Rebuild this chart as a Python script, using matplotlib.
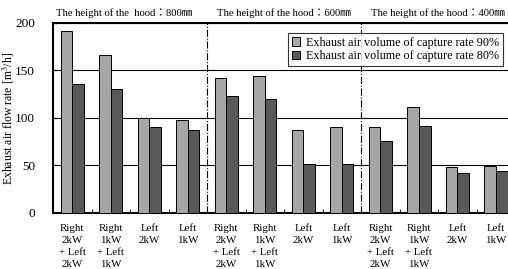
import matplotlib.pyplot as plt
import matplotlib.transforms as mtransforms
import numpy as np

plt.rcParams['font.family'] = ['Liberation Serif', 'Noto Sans CJK JP']
plt.rcParams['mathtext.fontset'] = 'stix'

categories = ["Right\n2kW\n+ Left\n2kW", "Right\n1kW\n+ Left\n1kW", "Left\n2kW", "Left\n1kW",
              "Right\n2kW\n+ Left\n2kW", "Right\n1kW\n+ Left\n1kW", "Left\n2kW", "Left\n1kW",
              "Right\n2kW\n+ Left\n2kW", "Right\n1kW\n+ Left\n1kW", "Left\n2kW", "Left\n1kW"]
rate90 = [192, 166, 100, 98, 142, 144, 87, 90, 90, 112, 48, 49]
rate80 = [136, 131, 90, 87, 123, 120, 52, 52, 76, 92, 42, 44]
section_titles = ["The height of the  hood\uff1a800\u339c",
                  "The height of the hood\uff1a600\u339c",
                  "The height of the hood\uff1a400\u339c"]

fig = plt.figure(figsize=(5.08, 2.69), dpi=100)
ax = fig.add_axes([0.1043, 0.2082, 0.9100, 0.7063])

x = np.arange(len(categories)) + 0.5
w = 0.3
ax.bar(x - w / 2, rate90, w, color='#a6a6a6', edgecolor='black', linewidth=0.7,
       label='Exhaust air volume of capture rate 90%', zorder=3)
ax.bar(x + w / 2, rate80, w, color='#595959', edgecolor='black', linewidth=0.7,
       label='Exhaust air volume of capture rate 80%', zorder=3)

ax.set_xlim(0, 12)
ax.set_ylim(0, 200)
ax.set_yticks([0, 50, 100, 150, 200])
ax.yaxis.grid(True, color='black', linewidth=0.8, zorder=0)
ax.tick_params(axis='y', direction='in', length=3, labelsize=9.5, pad=13)

ax.set_xticks(x)
ax.set_xticklabels(categories, fontsize=7.8, linespacing=1.4)
ax.tick_params(axis='x', length=0, pad=8)
ax.set_xticks(np.arange(1, 12), minor=True)
ax.tick_params(axis='x', which='minor', direction='in', length=3)

for s in ['left', 'bottom', 'top']:
    ax.spines[s].set_linewidth(1.5)

for xv in [4, 8]:
    ax.axvline(xv, color='black', linestyle='-.', linewidth=0.8, zorder=4)

ax.set_ylabel('Exhaust air flow rate [m$^3$/h]', fontsize=8.5)
ax.yaxis.set_label_coords(-0.08, 0.5)

trans = mtransforms.blended_transform_factory(ax.transData, ax.transAxes)
for i, t in enumerate(section_titles):
    ax.text(2 + 4 * i - 0.15 * (i == 0), 1.025, t, transform=trans, ha='center', va='bottom', fontsize=7.7)

leg = ax.legend(loc='upper right', fontsize=8.7, frameon=True, fancybox=False,
                handlelength=0.7, handleheight=0.7, handletextpad=0.5, borderpad=0.3,
                labelspacing=0.15, borderaxespad=0,
                bbox_to_anchor=(503 / 508, 1 - 33 / 269), bbox_transform=fig.transFigure)
leg.get_frame().set_edgecolor('black')
leg.get_frame().set_linewidth(0.8)

fig.savefig('out.png', dpi=100)
